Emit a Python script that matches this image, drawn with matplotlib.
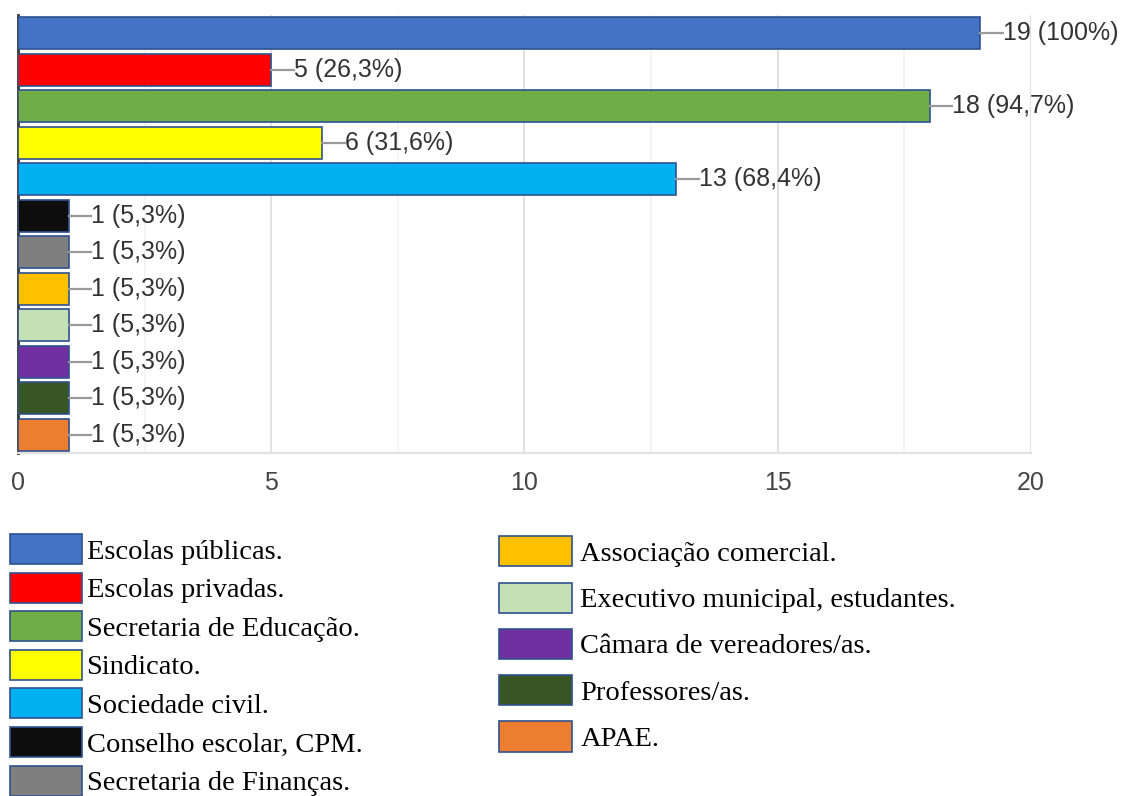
import matplotlib
matplotlib.use("Agg")
import matplotlib.pyplot as plt
from matplotlib.patches import Patch

categories = ["Escolas públicas.", "Escolas privadas.", "Secretaria de Educação.",
              "Sindicato.", "Sociedade civil.", "Conselho escolar, CPM.",
              "Secretaria de Finanças.", "Associação comercial.",
              "Executivo municipal, estudantes.", "Câmara de vereadores/as.",
              "Professores/as.", "APAE."]
counts = [19, 5, 18, 6, 13, 1, 1, 1, 1, 1, 1, 1]
percents = ["100%", "26,3%", "94,7%", "31,6%", "68,4%", "5,3%",
            "5,3%", "5,3%", "5,3%", "5,3%", "5,3%", "5,3%"]
colors = ["#4472C4", "#FF0000", "#70AD47", "#FFFF00", "#00B0F0", "#0D0D0D",
          "#7F7F7F", "#FFC000", "#C5E0B4", "#7030A0", "#375623", "#ED7D31"]
x_ticks = [0, 5, 10, 15, 20]

fig = plt.figure(figsize=(11.23, 7.96), dpi=100)
ax = fig.add_axes([0.016, 0.431, 0.902, 0.55])

ypos = list(range(len(categories)))
bars = ax.barh(ypos, counts, height=0.88, color=colors, edgecolor="#2F528F", linewidth=1.2, zorder=3)

# leader line + value label
for y, c, p in zip(ypos, counts, percents):
    ax.plot([c, c + 0.45], [y, y], color="#9a9a9a", lw=1.6, zorder=3, clip_on=False)
    ax.text(c + 0.45, y, "%d (%s)" % (c, p), va="center", ha="left", fontsize=18,
            family="Liberation Sans", color="#333333", clip_on=False)

ax.set_xlim(0, 20)
ax.set_ylim(len(categories) - 0.5, -0.5)
ax.set_xticks(x_ticks)
ax.set_xticks([2.5, 7.5, 12.5, 17.5], minor=True)
ax.set_yticks([])
ax.grid(axis="x", which="major", color="#e2e2e2", lw=1.5, zorder=0)
ax.grid(axis="x", which="minor", color="#f2f2f2", lw=1.2, zorder=0)
ax.tick_params(axis="x", which="both", length=0, pad=13, labelsize=18, labelcolor="#444444")
for lab in ax.get_xticklabels():
    lab.set_family("Liberation Sans")
for s in ["top", "right"]:
    ax.spines[s].set_visible(False)
ax.spines["bottom"].set_color("#e2e2e2")
ax.spines["bottom"].set_linewidth(1.5)
ax.spines["left"].set_color("#333333")
ax.spines["left"].set_linewidth(2)
ax.spines["left"].set_bounds(len(categories) - 0.5, -0.5)

# two-column legend in serif font
handles = [Patch(facecolor=col, edgecolor="#2F528F", linewidth=1.2) for col in colors]
leg_font = {"family": "Liberation Serif", "size": 20.5}
leg1 = fig.legend(handles[:7], categories[:7], loc="upper left", bbox_to_anchor=(0.001, 0.34),
                  frameon=False, prop=leg_font, handlelength=2.55, handleheight=1.25,
                  labelspacing=0.28, handletextpad=0.15, borderaxespad=0, borderpad=0.3)
leg2 = fig.legend(handles[7:], categories[7:], loc="upper left", bbox_to_anchor=(0.437, 0.337),
                  frameon=False, prop=leg_font, handlelength=2.55, handleheight=1.25,
                  labelspacing=0.55, handletextpad=0.3, borderaxespad=0, borderpad=0.3)

fig.savefig("out.png", dpi=100)
